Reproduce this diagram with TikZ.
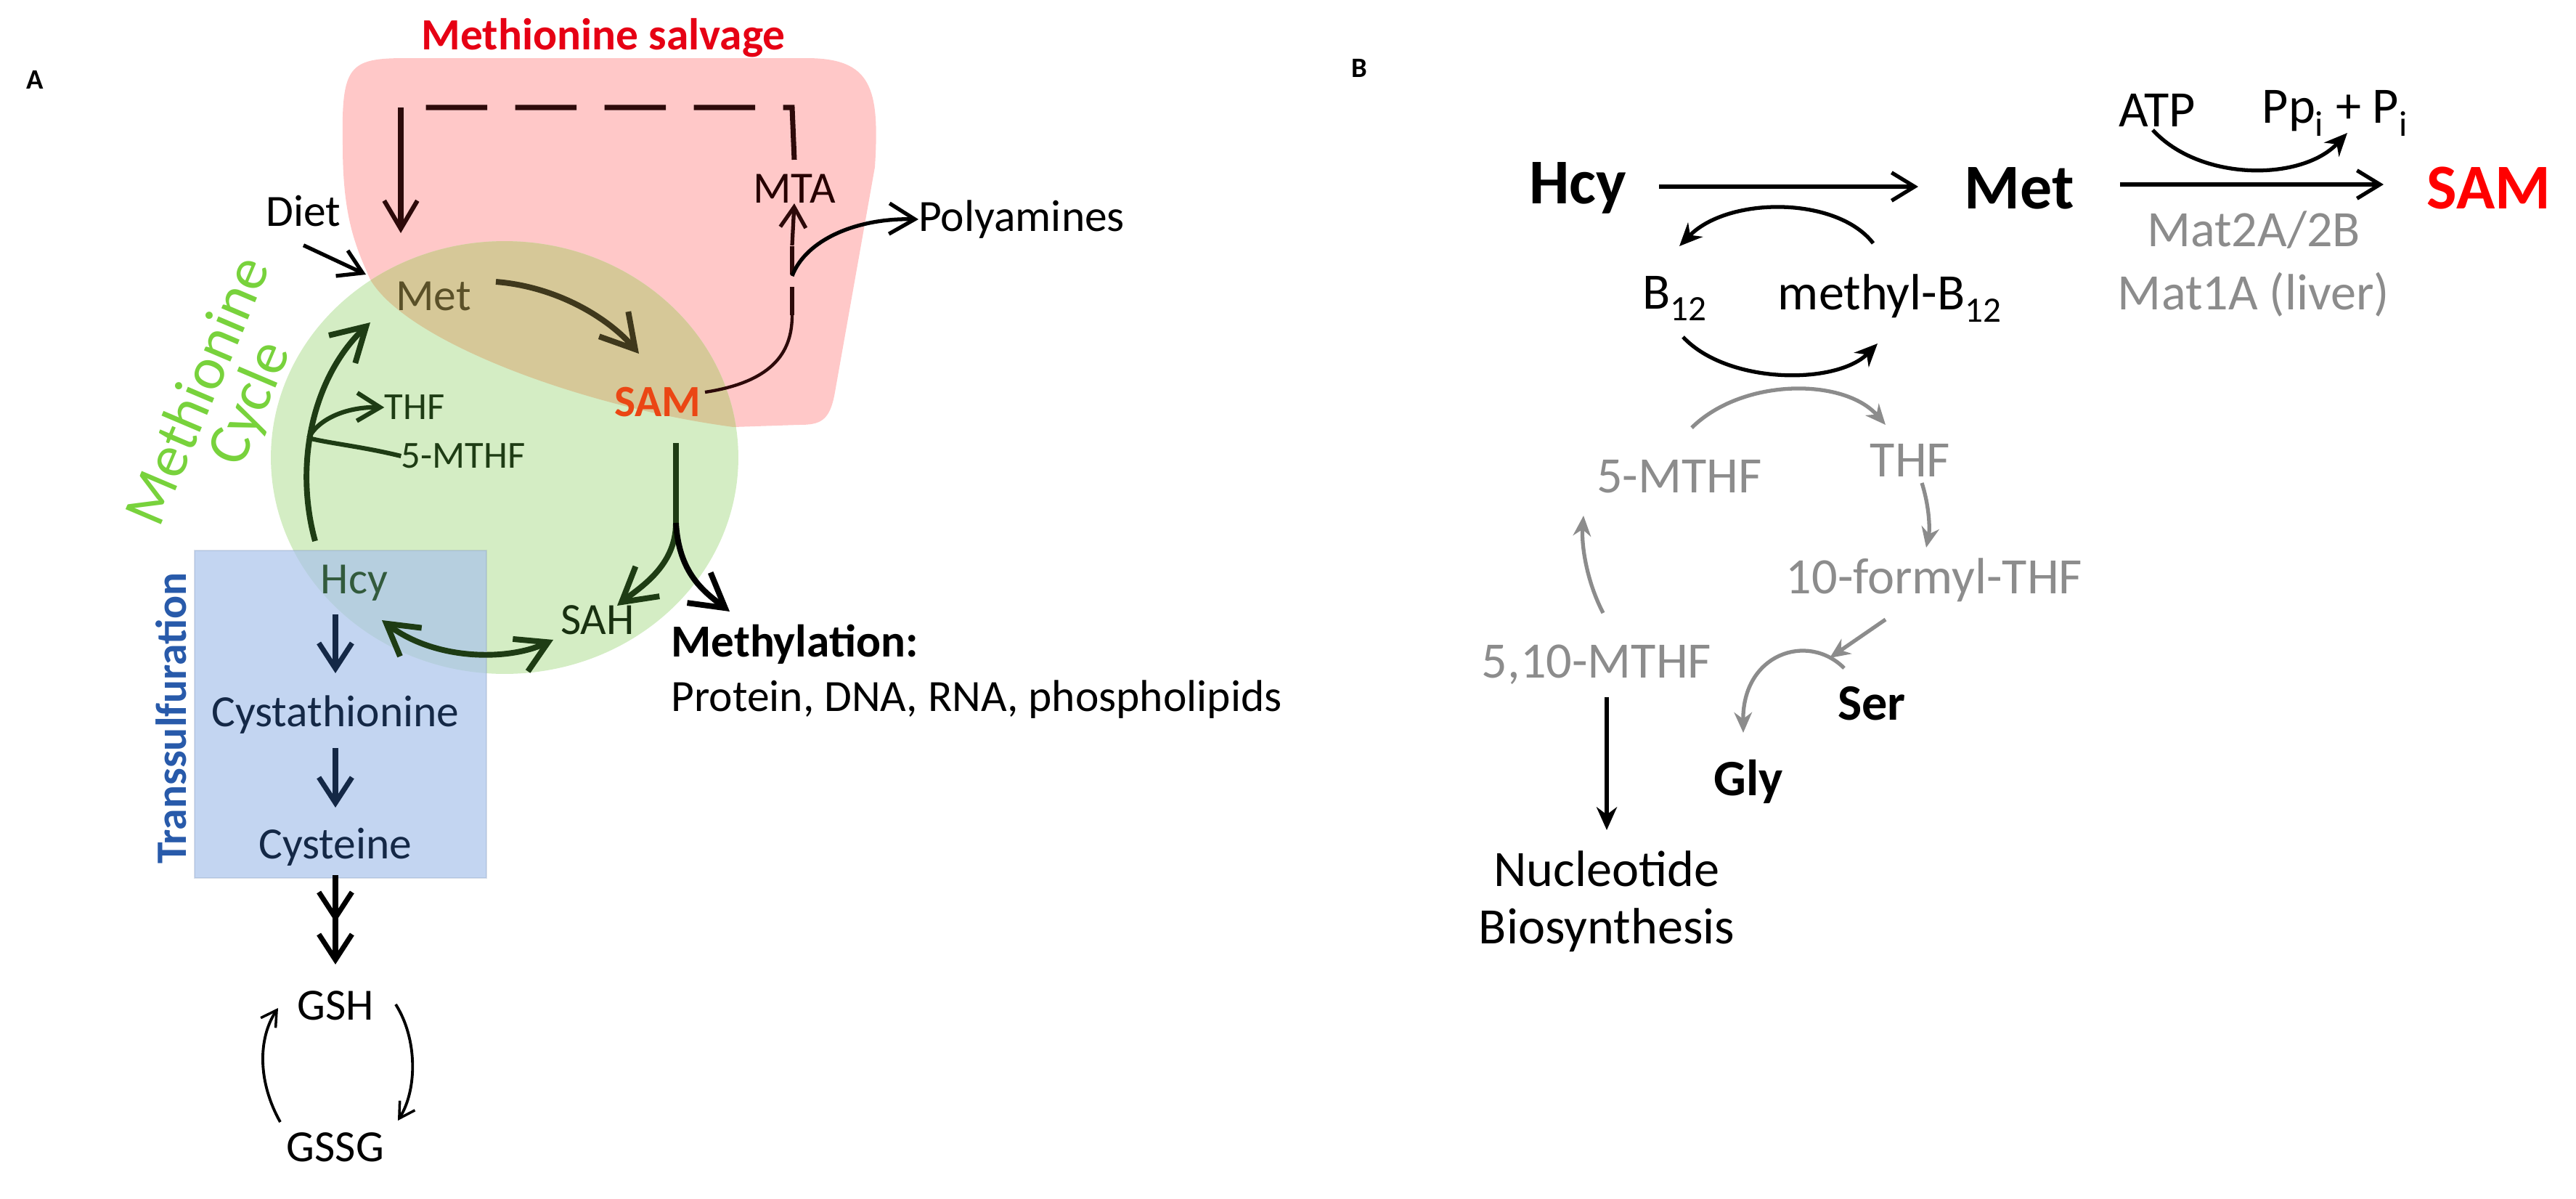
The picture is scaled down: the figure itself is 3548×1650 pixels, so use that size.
\documentclass[tikz,border=0pt]{standalone}
\usepackage{fontspec}
\setmainfont{Carlito}
\usetikzlibrary{arrows.meta}
\newcommand\fsz[1]{\fontsize{#1pt}{#1pt}\selectfont}
\definecolor{pinkf}{RGB}{255,200,200}
\definecolor{greenf}{RGB}{212,237,196}
\definecolor{tanf}{RGB}{214,200,152}
\definecolor{bluef}{RGB}{170,195,235}
\definecolor{dgreen}{RGB}{30,60,20}
\definecolor{mettxt}{RGB}{90,80,40}
\definecolor{samred}{RGB}{235,70,20}
\definecolor{titred}{RGB}{230,0,20}
\definecolor{cycg}{RGB}{120,210,60}
\definecolor{tsblue}{RGB}{40,90,170}
\definecolor{navy}{RGB}{20,40,70}
\definecolor{hcyt}{RGB}{50,90,60}
\definecolor{dred}{RGB}{45,10,10}
\definecolor{gr}{RGB}{140,140,140}
\tikzset{
  lab/.style={inner sep=0pt, font=\fsz{35}},
  small/.style={inner sep=0pt, font=\fsz{30}, text=dgreen},
  blab/.style={inner sep=0pt, font=\fsz{40}},
  big/.style={inner sep=0pt, font=\fsz{50}\bfseries},
  arrA/.style={line width=4.5pt, draw=dgreen, -{Straight Barb[length=26pt,width=30pt,line width=4.5pt]}},
  arrN/.style={line width=4pt, draw=navy, -{Straight Barb[length=20pt,width=26pt,line width=4pt]}},
  thinA/.style={line width=2.2pt, draw=black, -{Straight Barb[length=12pt,width=14pt,line width=2pt]}},
  arrB/.style={line width=3pt, draw=black, -{Straight Barb[length=18pt,width=22pt,line width=3pt]}},
  arcB/.style={line width=3pt, draw=black, -{Stealth[length=18pt,width=16pt]}},
  arcG/.style={line width=3pt, draw=gr, -{Stealth[length=16pt,width=14pt]}},
}
\begin{document}
\begin{tikzpicture}[x=0.02cm,y=-0.02cm]
\useasboundingbox (0,0) rectangle (3548,1650);
% ---------- Panel A backgrounds
\def\pinkpath{(472,200) .. controls (470,90) and (480,80) .. (560,80) -- (1110,80) .. controls (1200,80) and (1212,120) .. (1205,230) -- (1150,540) .. controls (1143,580) and (1130,585) .. (1100,585) -- (1010,588) .. controls (800,560) and (560,470) .. (510,385) .. controls (490,340) and (472,300) .. (472,200) -- cycle}
\fill[pinkf] \pinkpath;
\fill[greenf] (695,630) ellipse [x radius=6.44cm, y radius=5.96cm];
\begin{scope}
\clip \pinkpath;
\fill[tanf] (695,630) ellipse [x radius=6.44cm, y radius=5.96cm];
\end{scope}
\fill[bluef, fill opacity=0.7, draw=bluef!80!black, draw opacity=0.3, line width=1pt] (268,758) rectangle (670,1209);

% ---------- Panel A labels
\node[inner sep=0pt, font=\fsz{22}\bfseries] (A) at (48,110) {A};
\node[inner sep=0pt, font=\fsz{35}\bfseries, text=titred] (salv) at (831,52) {Methionine salvage};
\node[lab] (diet) at (418,291) {Diet};
\node[lab, text=mettxt] (met) at (597,408) {Met};
\node[inner sep=0pt, font=\fsz{35}\bfseries, text=samred] (sam) at (906,554) {SAM};
\node[lab, text=black!85!red] (mta) at (1094,260) {MTA};
\node[lab, anchor=west] (poly) at (1265,302) {Polyamines};
\node[small] (thf) at (571,561) {THF};
\node[small] (mthf) at (638,628) {5-MTHF};
\node[lab, text=hcyt] (hcyA) at (488,803) {Hcy};
\node[lab, text=dgreen!80!black] (sah) at (823,854) {SAH};
\node[inner sep=0pt, font=\fsz{36}\bfseries, anchor=west] (meth) at (924,887) {Methylation:};
\node[lab, anchor=west] (prot) at (924,963) {Protein, DNA, RNA, phospholipids};
\node[inner sep=0pt, font=\fsz{47}, text=cycg, rotate=67] (mc1) at (270,537) {Methionine};
\node[inner sep=0pt, font=\fsz{47}, text=cycg, rotate=67] (mc2) at (346,556) {Cycle};
\node[inner sep=0pt, font=\fsz{34}\bfseries, text=tsblue, rotate=90] (ts) at (236,989) {Transsulfuration};
\node[lab, text=navy] (cysta) at (462,984) {Cystathionine};
\node[lab, text=navy] (cyst) at (462,1166) {Cysteine};
\node[lab] (gsh) at (462,1385) {GSH};
\node[lab] (gssg) at (462,1580) {GSSG};

% ---------- Panel A connectors
\coordinate (ms) at (683,388); \coordinate (me) at (880,487);
\draw[arrA, draw=mettxt!70!black] (ms) .. controls (770,395) and (840,440) .. (me);
\draw[thinA, line width=3pt, -{Straight Barb[length=18pt,width=22pt,line width=3pt]}] (diet.south) ++(0,25) -- (504,378);
\coordinate (hs) at (434,745); \coordinate (he) at (510,444); \coordinate (br) at (425,603);
\draw[arrA] (hs) .. controls (405,640) and (430,520) .. (he);
\draw[line width=3.5pt, draw=dgreen] (mthf.west) .. controls (500,615) and (450,610) .. (br);
\draw[arrA, line width=3.5pt, -{Straight Barb[length=18pt,width=22pt,line width=3.5pt]}] (br) .. controls (440,575) and (480,560) .. (thf.west);
\coordinate (s1) at (931,610); \coordinate (s2) at (931,720);
\draw[line width=4.5pt, dgreen] (s1) -- (s2);
\draw[arrA] (s2) .. controls (931,780) and (880,810) .. (850,834);
\draw[arrA, draw=black] (s2) .. controls (935,790) and (970,815) .. (1005,842);
\draw[arrA, {Straight Barb[length=24pt,width=28pt,line width=4.5pt]}-{Straight Barb[length=24pt,width=28pt,line width=4.5pt]}] (526,854) .. controls (600,910) and (700,910) .. (762,881);
% salvage
\coordinate (t1) at (1091,434); \coordinate (t2) at (1091,380);
\draw[line width=2.5pt, dred] (sam.east) ++(5,-14) .. controls (1070,525) and (1091,480) .. (t1);
\draw[line width=3pt, dred, dash pattern=on 22pt off 10pt] (t1) -- (1091,330);
\draw[line width=3pt, dred, -{Straight Barb[length=16pt,width=20pt,line width=3pt]}] (1091,338) -- (mta.south);
\draw[thinA, line width=3pt, -{Straight Barb[length=20pt,width=24pt,line width=3pt]}] (t2) .. controls (1110,330) and (1180,300) .. (poly.west);
\coordinate (d1) at (1091,148); \coordinate (d2) at (552,148); \coordinate (d3) at (552,321);
\draw[line width=4pt, dred, dash pattern=on 48pt off 22pt] (mta.north) ++(0,-20) -- (d1) -- (d2);
\draw[line width=4pt, dred, -{Straight Barb[length=22pt,width=26pt,line width=3.5pt]}] (d2) -- (d3);
% transsulfuration
\draw[arrN] (462,846) -- (462,927);
\draw[arrN] (462,1030) -- (462,1112);
\draw[arrN, draw=black] (462,1205) -- (462,1270);
\draw[arrN, draw=black] (462,1262) -- (462,1328);
\draw[thinA] (386,1545) .. controls (355,1490) and (355,1430) .. (383,1388);
\draw[thinA] (545,1383) .. controls (575,1430) and (575,1500) .. (548,1543);

% ---------- Panel B
\node[inner sep=0pt, font=\fsz{22}\bfseries] (B) at (1872,94) {B};
\node[big] (hcy) at (2173,259) {Hcy};
\node[big] (metB) at (2781,259) {Met};
\node[big, text=red] (samB) at (3428,259) {SAM};
\node[blab] (atp) at (2971,152) {ATP};
\node[blab] (ppi) at (3216,156) {Pp\textsubscript{i} + P\textsubscript{i}};
\node[blab, text=gr] (mat2) at (3104,317) {Mat2A/2B};
\node[blab, text=gr] (mat1) at (3104,406) {Mat1A (liver)};
\node[blab] (b12) at (2307,411) {B\textsubscript{12}};
\node[blab] (mb12) at (2603,411) {methyl-B\textsubscript{12}};
\node[blab, text=gr] (m5) at (2313,656) {5-MTHF};
\node[blab, text=gr] (thfB) at (2631,634) {THF};
\node[blab, text=gr] (f10) at (2664,799) {10-formyl-THF};
\node[blab, text=gr] (m510) at (2199,915) {5,10-MTHF};
\node[blab, font=\fsz{40}\bfseries] (ser) at (2578,969) {Ser};
\node[blab, font=\fsz{40}\bfseries] (gly) at (2408,1076) {Gly};
\node[blab] (nuc) at (2213,1196) {Nucleotide};
\node[blab] (bio) at (2213,1281) {Biosynthesis};

\draw[arrB] (2285,257) -- (2642,257);
\draw[arrB] (2920,254) -- (3283,254);
\draw[arcB] (2965,179) .. controls (3030,250) and (3170,250) .. (3233,183);
\draw[arcB] (2580,335) .. controls (2530,270) and (2380,270) .. (2313,339);
\draw[arcB] (2318,464) .. controls (2380,530) and (2530,530) .. (2586,473);
\draw[arcG] (2330,589) .. controls (2400,520) and (2540,520) .. (2597,585);
\draw[arcG] (2647,665) .. controls (2658,700) and (2658,730) .. (2653,754);
\draw[arcG] (2597,853) -- (2520,906);
\draw[arcG] (2208,844) .. controls (2185,800) and (2178,750) .. (2181,710);
\draw[arcG] (2540,920) .. controls (2490,870) and (2400,900) .. (2401,1009);
\draw[arcB] (2213,960) -- (2213,1143);
\end{tikzpicture}
\end{document}
